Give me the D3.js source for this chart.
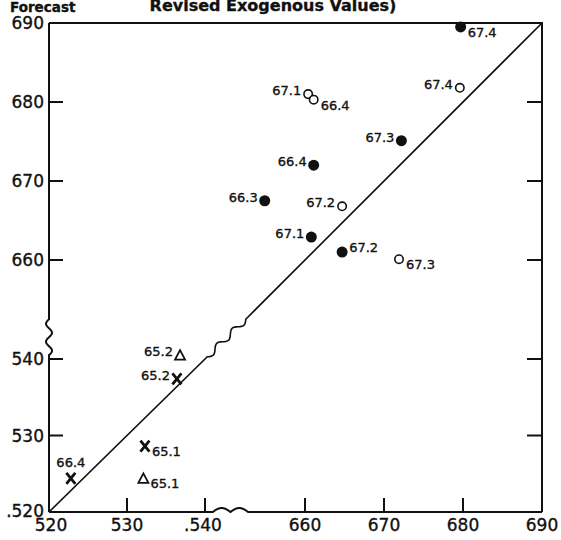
<!DOCTYPE html>
<html>
<head>
<meta charset="utf-8">
<script src="https://cdn.jsdelivr.net/npm/d3@7"></script>
<style>
  body { margin: 0; background: #fff; }
  svg { display: block; }
  text { font-family: "DejaVu Sans", sans-serif; fill: #111; stroke: #111; stroke-width: 0.35px; }
</style>
</head>
<body>
<script>
// values (low range 520-540, high range ~650-690)
var filledLabels = ["67.4", "67.3", "66.4", "66.3", "67.1", "67.2"];
var filledX = [679.7, 672.2, 661.1, 654.9, 660.8, 664.7];
var filledY = [689.5, 675.1, 672.0, 667.5, 662.9, 661.0];
var filledSide = ["RB", "L", "L", "L", "L", "R"];

var openLabels = ["67.1", "66.4", "67.4", "67.2", "67.3"];
var openX = [660.4, 661.1, 679.6, 664.7, 671.9];
var openY = [681.0, 680.3, 681.8, 666.8, 660.1];
var openSide = ["L", "RB", "L", "L", "RB"];

var crossLabels = ["65.2", "65.1", "66.4"];
var crossX = [536.4, 532.3, 522.8];
var crossY = [537.4, 528.6, 524.4];
var crossSide = ["L", "RB", "T"];

var triLabels = ["65.2", "65.1"];
var triX = [536.8, 532.1];
var triY = [540.5, 524.4];
var triSide = ["L", "RB"];

var lowTicks = [520, 530, 540];
var highTicks = [660, 670, 680, 690];
var xTickText = {520: "520", 530: "530", 540: ".540", 660: "660", 670: "670", 680: "680", 690: "690"};
var yTickText = {520: ".520", 530: "530", 540: "540", 660: "660", 670: "670", 680: "680", 690: "690"};

var W = 561, H = 540;
var plotL = 49, plotR = 542, plotT = 23, plotB = 512;

var xLow = d3.scaleLinear().domain([520, 540]).range([plotL, 205]);
var xHigh = d3.scaleLinear().domain([660, 690]).range([305, plotR]);
var yLow = d3.scaleLinear().domain([520, 540]).range([plotB, 359]);
var yHigh = d3.scaleLinear().domain([660, 690]).range([260, plotT]);

function sx(v) { return v < 600 ? xLow(v) : xHigh(v); }
function sy(v) { return v < 600 ? yLow(v) : yHigh(v); }

var svg = d3.select("body").append("svg")
  .attr("width", W)
  .attr("height", H);

// wavy piece between two screen points
function wave(p0, p1, amp, periods, abs) {
  var pts = [], n = 40;
  var dx = p1[0] - p0[0], dy = p1[1] - p0[1];
  var len = Math.sqrt(dx * dx + dy * dy);
  var nx = -dy / len, ny = dx / len;
  for (var i = 0; i <= n; i++) {
    var t = i / n;
    var s = Math.sin(t * periods * 2 * Math.PI);
    if (abs) s = Math.abs(s);
    pts.push([p0[0] + dx * t + nx * amp * s, p0[1] + dy * t + ny * amp * s]);
  }
  return pts;
}

var line = d3.line();
var frame = svg.append("g")
  .attr("fill", "none")
  .attr("stroke", "#111")
  .attr("stroke-width", 2);

// left axis with break
var yb0 = yHigh(652.5), yb1 = yLow(540.5);
frame.append("path").attr("d", line([[plotL, plotT], [plotL, yb0]].concat(
  wave([plotL, yb0], [plotL, yb1], 3, 2, false), [[plotL, plotB]])));

// bottom axis with break, humps going up
var xb0 = xLow(541), xb1 = xHigh(652.8);
frame.append("path").attr("d", line([[plotL, plotB], [xb0, plotB]].concat(
  wave([xb0, plotB], [xb1, plotB], -4, 1, true), [[plotR, plotB]])));

// top and right border
frame.append("path").attr("d", line([[plotL, plotT], [plotR, plotT], [plotR, plotB]]));

// ticks
var allTicks = lowTicks.concat(highTicks);
allTicks.forEach(function(v) {
  if (v !== 520 && v !== 690) {
    frame.append("line").attr("x1", plotL).attr("x2", plotL + 14)
      .attr("y1", sy(v)).attr("y2", sy(v));
    frame.append("line").attr("x1", plotR).attr("x2", plotR - 15)
      .attr("y1", sy(v)).attr("y2", sy(v));
    frame.append("line").attr("x1", sx(v)).attr("x2", sx(v))
      .attr("y1", plotB).attr("y2", plotB - 14);
  }
  svg.append("text")
    .attr("x", plotL - 5)
    .attr("y", sy(v) + (v === 520 ? 5 : 6))
    .attr("text-anchor", "end")
    .style("font-size", "17px")
    .text(yTickText[v]);
  svg.append("text")
    .attr("x", sx(v) + (v === 540 ? -2 : (v === 520 ? 2 : 0)))
    .attr("y", plotB + 19)
    .attr("text-anchor", "middle")
    .style("font-size", "17px")
    .text(xTickText[v]);
});

// 45 degree line with break
var d0 = [sx(520), sy(520)], d1 = [sx(540.3), sy(540.3)];
var d2 = [sx(652.5), sy(652.5)], d3p = [sx(690), sy(690)];
svg.append("path")
  .attr("fill", "none")
  .attr("stroke", "#111")
  .attr("stroke-width", 1.6)
  .attr("d", line([d0].concat(wave(d1, d2, 3, 2.5, false), [d3p])));

// titles
svg.append("text")
  .attr("x", 10).attr("y", 12)
  .style("font-size", "13.5px").style("font-weight", "bold")
  .text("Forecast");
svg.append("text")
  .attr("x", 273).attr("y", 11)
  .attr("text-anchor", "middle")
  .style("font-size", "16px").style("font-weight", "bold")
  .text("Revised Exogenous Values)");

// label placement
var sides = {
  L: {dx: -7, dy: 1, anchor: "end"},
  R: {dx: 7, dy: 0, anchor: "start"},
  RB: {dx: 7, dy: 10, anchor: "start"},
  T: {dx: 0, dy: -11, anchor: "middle"}
};

function makeSeries(labels, xs, ys, side) {
  return labels.map(function(l, i) {
    return {label: l, x: xs[i], y: ys[i], side: side[i]};
  });
}

function addLabels(data) {
  svg.selectAll(null)
    .data(data)
    .enter().append("text")
    .attr("x", function(d) { return sx(d.x) + sides[d.side].dx; })
    .attr("y", function(d) { return sy(d.y) + sides[d.side].dy; })
    .attr("text-anchor", function(d) { return sides[d.side].anchor; })
    .style("font-size", "13px")
    .text(function(d) { return d.label; });
}

var filled = makeSeries(filledLabels, filledX, filledY, filledSide);
var open = makeSeries(openLabels, openX, openY, openSide);
var cross = makeSeries(crossLabels, crossX, crossY, crossSide);
var tri = makeSeries(triLabels, triX, triY, triSide);

svg.selectAll(".filled")
  .data(filled)
  .enter().append("circle")
  .attr("class", "filled")
  .attr("cx", function(d) { return sx(d.x); })
  .attr("cy", function(d) { return sy(d.y); })
  .attr("r", 5.5)
  .attr("fill", "#111");

svg.selectAll(".open")
  .data(open)
  .enter().append("circle")
  .attr("class", "open")
  .attr("cx", function(d) { return sx(d.x); })
  .attr("cy", function(d) { return sy(d.y); })
  .attr("r", 4.2)
  .attr("fill", "#fff")
  .attr("stroke", "#111")
  .attr("stroke-width", 1.6);

svg.selectAll(".cross")
  .data(cross)
  .enter().append("path")
  .attr("class", "cross")
  .attr("transform", function(d) { return "translate(" + sx(d.x) + "," + sy(d.y) + ")"; })
  .attr("d", "M-4.5,-5.5L4.5,5.5M4.5,-5.5L-4.5,5.5")
  .attr("stroke", "#111")
  .attr("stroke-width", 2.8);

svg.selectAll(".tri")
  .data(tri)
  .enter().append("path")
  .attr("class", "tri")
  .attr("transform", function(d) { return "translate(" + sx(d.x) + "," + sy(d.y) + ")"; })
  .attr("d", "M0,-5L5,4.5L-5,4.5Z")
  .attr("fill", "none")
  .attr("stroke", "#111")
  .attr("stroke-width", 1.8);

addLabels(filled);
addLabels(open);
addLabels(cross);
addLabels(tri);
</script>
</body>
</html>
